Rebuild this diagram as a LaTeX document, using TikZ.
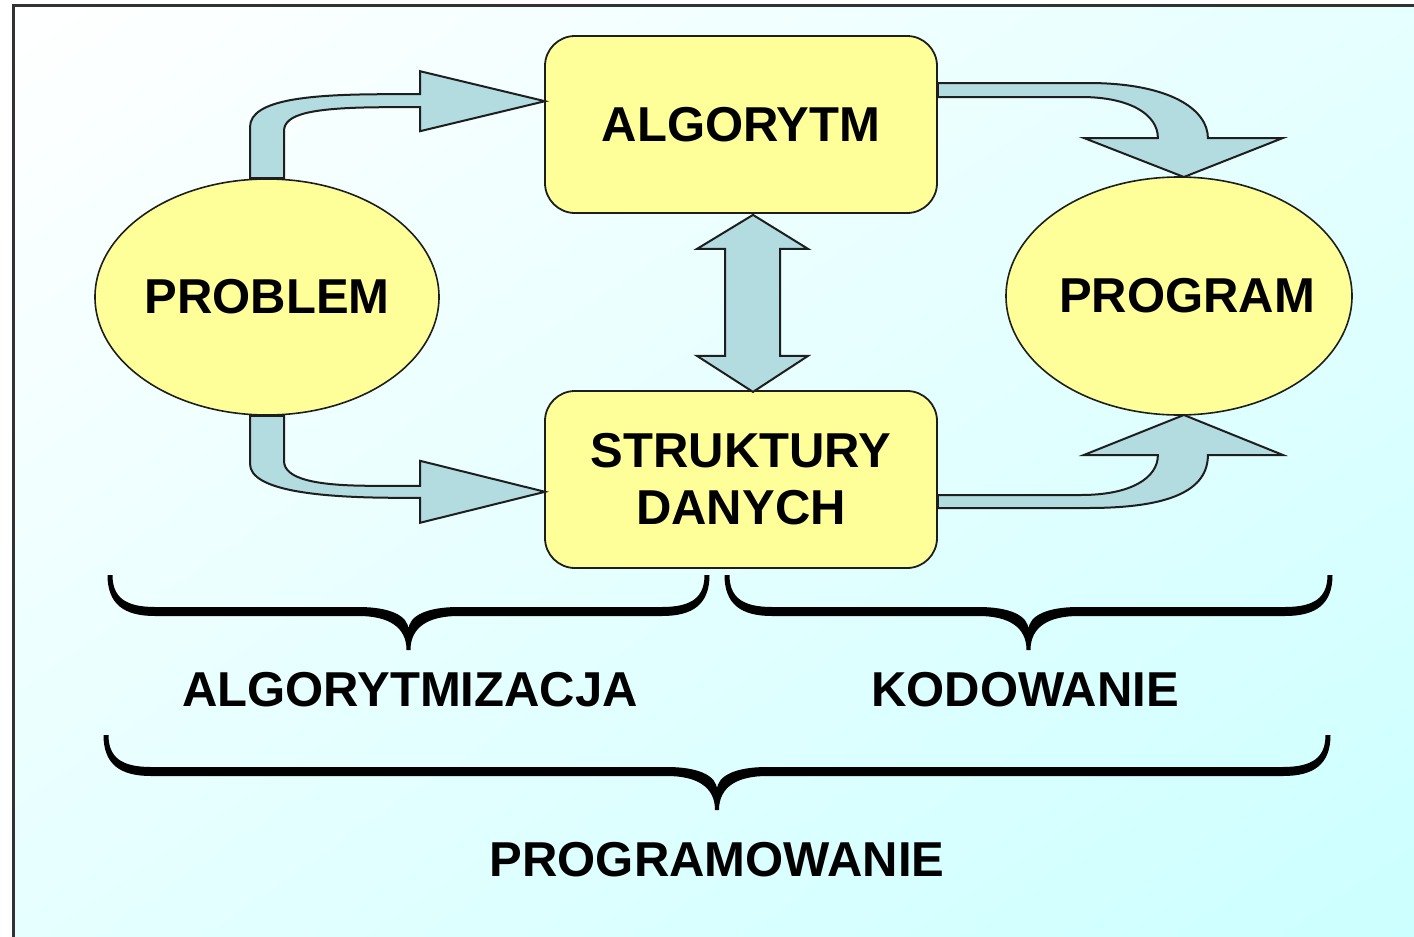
\documentclass[tikz,border=0pt]{standalone}
\usepackage{fontspec}
\setmainfont{Liberation Sans}
\usetikzlibrary{shapes.geometric,shadings}

\definecolor{bgcyan}{RGB}{204,255,255}
\definecolor{bgmid}{RGB}{230,255,255}
\definecolor{boxyellow}{RGB}{255,255,153}
\definecolor{arrowblue}{RGB}{178,220,224}
\definecolor{edgegray}{RGB}{30,30,30}
\definecolor{framegray}{RGB}{50,50,50}

% curly brace opening downwards: left x, right x, top y
\newcommand\curlybrace[3]{%
  \pgfmathsetmacro\bm{(#1+#2)/2}%
  \fill[black]
    (#1-2.5,#3) .. controls (#1-2.5,#3+30) and (#1+15,#3+41) .. (#1+45,#3+41)
    -- (\bm-50,#3+41) .. controls (\bm-20,#3+41) and (\bm-2,#3+52) .. (\bm-2,#3+75)
    -- (\bm+2,#3+75) .. controls (\bm+2,#3+52) and (\bm+20,#3+41) .. (\bm+50,#3+41)
    -- (#2-45,#3+41) .. controls (#2-15,#3+41) and (#2+2.5,#3+30) .. (#2+2.5,#3)
    -- (#2-2.5,#3) .. controls (#2-2.5,#3+22) and (#2-15,#3+32) .. (#2-45,#3+32)
    -- (\bm+50,#3+32) .. controls (\bm+20,#3+32) and (\bm,#3+40) .. (\bm,#3+55)
    .. controls (\bm,#3+40) and (\bm-20,#3+32) .. (\bm-50,#3+32)
    -- (#1+45,#3+32) .. controls (#1+15,#3+32) and (#1+2.5,#3+22) .. (#1+2.5,#3)
    -- cycle;}

\begin{document}
\begin{tikzpicture}[x=0.5pt,y=-0.5pt,
  lbl/.style={font=\bfseries\fontsize{24.5}{28.5}\selectfont},
  procbox/.style={lbl, draw=edgegray, line width=0.9pt, fill=boxyellow,
    rounded corners=15pt, minimum width=196pt, minimum height=88.5pt,
    inner sep=0pt, align=center},
  endpoint/.style={lbl, ellipse, draw=edgegray, line width=0.8pt, fill=boxyellow,
    minimum width=172pt, minimum height=118pt, inner sep=0pt},
  blockarrow/.style={draw=edgegray, line width=1pt, fill=arrowblue, line join=miter},
  caption/.style={lbl}]

\useasboundingbox (0,0) rectangle (1414,937);

% page background and frame
\fill[white] (0,0) rectangle (1414,937);
\shade[shading=bilinear interpolation, upper left=white, upper right=bgmid,
  lower left=bgmid, lower right=bgcyan] (13.5,5) rectangle (1414,937);
\draw[framegray, line width=1.5pt] (13.5,937) -- (13.5,5) -- (1414,5);

% main blocks (ellipse size fixed, not driven by the label width)
\node[procbox] (alg) at (741,124.5) {ALGORYTM};
\node[procbox] (dat) at (741,479.5) {STRUKTURY\\DANYCH};
\node[endpoint] (prob) at (267,297) {\makebox[0pt]{PROBLEM}};
\node[endpoint, minimum width=173pt, minimum height=119pt] (prog) at (1179,296) {\makebox[0pt]{\hspace*{8pt}PROGRAM}};

% PROBLEM -> ALGORYTM
\begin{scope}[shift={(prob.north)}]
  \draw[blockarrow] (-17,0) -- (-17,-51) .. controls (-17,-79) and (43,-84) .. (123,-84)
    -- (153,-84) -- (153,-107) -- (278,-77) -- (153,-47) -- (153,-71) -- (123,-71)
    .. controls (43,-71) and (17,-64) .. (17,-47) -- (17,0) -- cycle;
\end{scope}

% PROBLEM -> STRUKTURY DANYCH
\begin{scope}[shift={(prob.south)}]
  \draw[blockarrow] (-17,0) -- (-17,48) .. controls (-17,75) and (53,82) .. (133,82)
    -- (153,82) -- (153,107) -- (278,76) -- (153,45) -- (153,70) -- (106,70)
    .. controls (48,70) and (17,63) .. (17,45) -- (17,0) -- cycle;
\end{scope}

% ALGORYTM -> PROGRAM
\begin{scope}[shift={(alg.east)}]
  \draw[blockarrow] (0,-41.5) -- (150,-41.5) .. controls (233,-41.5) and (270,-14.5) .. (270,13.5)
    -- (345,13.5) -- (246,52.5) -- (146,13.5) -- (220,13.5)
    .. controls (220,-9.5) and (193,-27.5) .. (143,-27.5) -- (0,-27.5) -- cycle;
\end{scope}

% STRUKTURY DANYCH -> PROGRAM
\begin{scope}[shift={(dat.east)}]
  \draw[blockarrow] (0,15.5) -- (143,15.5) .. controls (193,15.5) and (220,-1.5) .. (220,-24.5)
    -- (146,-24.5) -- (246,-64.5) -- (345,-24.5) -- (270,-24.5)
    .. controls (270,10.5) and (233,28.5) .. (150,28.5) -- (0,28.5) -- cycle;
\end{scope}

% ALGORYTM <-> STRUKTURY DANYCH
\begin{scope}[shift={(alg.south)}]
  \draw[blockarrow] (12,1) -- (67,35) -- (39,35) -- (39,142) -- (67,142) -- (12,178)
    -- (-44,142) -- (-16,142) -- (-16,35) -- (-44,35) -- cycle;
\end{scope}

% phases
\curlybrace{110}{707}{575}
\curlybrace{727}{1330}{575}
\curlybrace{106}{1328}{735}

\node[caption] (phase1) at (410,690) {ALGORYTMIZACJA};
\node[caption] (phase2) at (1025,690) {KODOWANIE};
\node[caption] (whole) at (717,860) {PROGRAMOWANIE};

\end{tikzpicture}
\end{document}
